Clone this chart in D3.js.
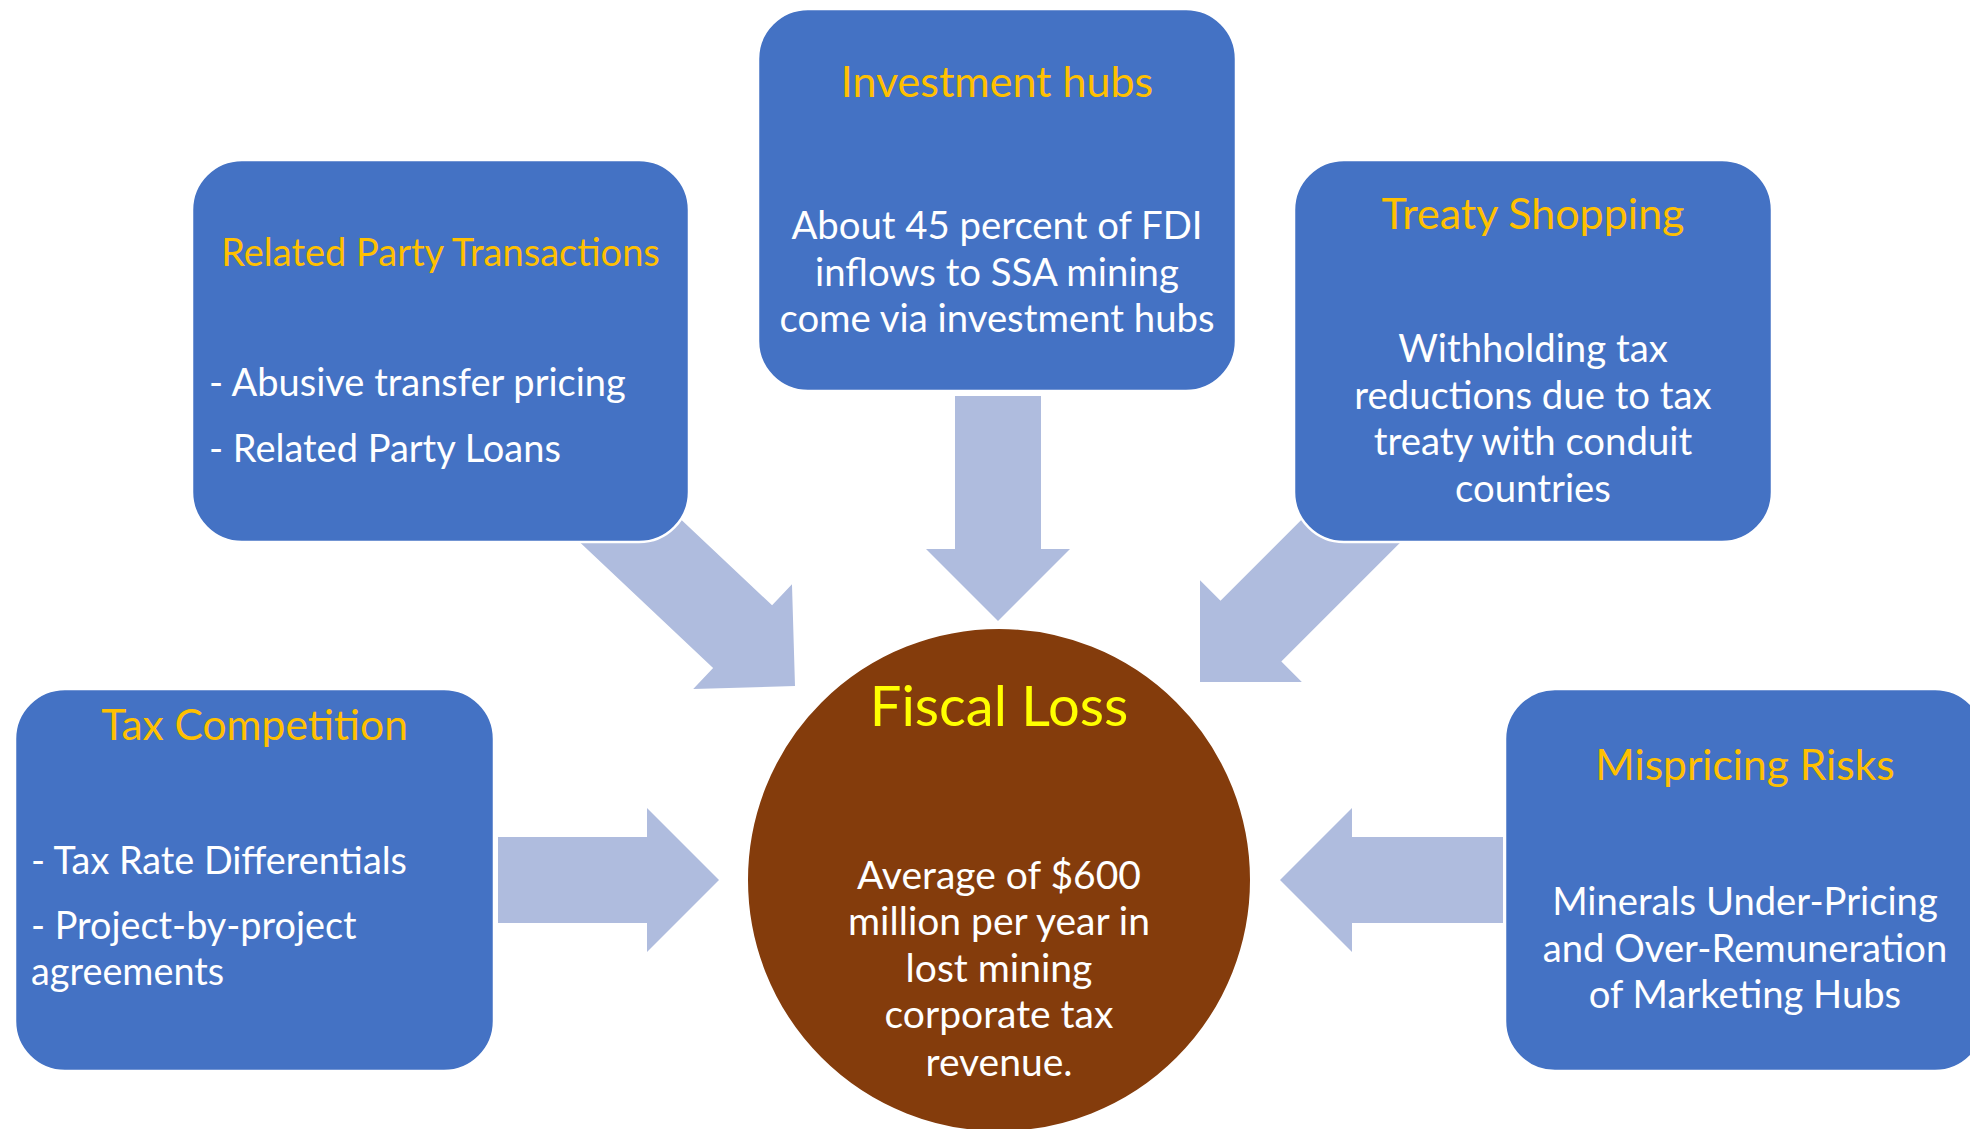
<!DOCTYPE html>
<html>
<head>
<meta charset="utf-8">
<script src="https://cdn.jsdelivr.net/npm/d3@7"></script>
<style>
  html, body { margin: 0; padding: 0; background: #ffffff; }
  svg { display: block; }
</style>
</head>
<body>
<script>
// ---------------- DATA ----------------
const boxTitles = [
  "Investment hubs",
  "Related Party Transactions",
  "Treaty Shopping",
  "Tax Competition",
  "Mispricing Risks"
];
const boxBodies = [
  ["About 45 percent of FDI", "inflows to SSA mining", "come via investment hubs"],
  ["- Abusive transfer pricing", "- Related Party Loans"],
  ["Withholding tax", "reductions due to tax", "treaty with conduit", "countries"],
  ["- Tax Rate Differentials", "- Project-by-project", "agreements"],
  ["Minerals Under-Pricing", "and Over-Remuneration", "of Marketing Hubs"]
];
const centerTitle = "Fiscal Loss";
const centerBody = ["Average of $600", "million per year in", "lost mining", "corporate tax", "revenue."];

// ---------------- LAYOUT ----------------
const W = 1970, H = 1129;
const FONT = "Lato, 'Open Sans', sans-serif";
const BOX_FILL = "#4472C4", TITLE_COL = "#FFC000", ARROW_COL = "#AFBCDE";
const CIRCLE_FILL = "#843C0C", CENTER_TITLE_COL = "#FFFF00";

// box frames and text placement (pixel layout)
const boxLayout = [
  { x: 758, y: 9,   w: 478, h: 382, titleY: 82,  titleSize: 43, bodyY: [226, 273, 319], bodySize: 38.3, align: "middle" },
  { x: 192, y: 160, w: 497, h: 382, titleY: 253, titleSize: 38, bodyY: [383, 449],      bodySize: 38,   align: "start", textX: 209 },
  { x: 1294, y: 160, w: 478, h: 382, titleY: 214, titleSize: 43, bodyY: [349, 396, 442, 489], bodySize: 38.3, align: "middle" },
  { x: 15,  y: 689, w: 479, h: 382, titleY: 726, titleSize: 42.5, bodyY: [861, 926, 972], bodySize: 37.8, align: "start", textX: 31 },
  { x: 1505, y: 689, w: 480, h: 382, titleY: 766, titleSize: 42.5, bodyY: [902, 949, 995], bodySize: 38.2, align: "middle" }
];
const circle = { cx: 999, cy: 880, r: 252, titleY: 707, titleSize: 56, bodyY: [876, 922, 969, 1015, 1063], bodySize: 39 };

// arrows: tip point, direction (deg), total length
const arrows = [
  { tx: 998,  ty: 621, ang: 90,   len: 225 },
  { tx: 719,  ty: 880, ang: 0,    len: 221 },
  { tx: 1280, ty: 880, ang: 180,  len: 223 },
  { tx: 795,  ty: 686, ang: 43.3, len: 300 },
  { tx: 1200, ty: 682, ang: 135,  len: 300 }
];
const SHAFT_HALF = 43, HEAD_HALF = 72, HEAD_LEN = 72;

// ---------------- DRAW ----------------
const svg = d3.select("body").append("svg")
  .attr("width", W).attr("height", H)
  .attr("viewBox", `0 0 ${W} ${H}`);

svg.append("rect").attr("width", W).attr("height", H).attr("fill", "#fff");

function arrowPoints(a) {
  const r = a.ang * Math.PI / 180;
  const dx = Math.cos(r), dy = Math.sin(r);
  const nx = -dy, ny = dx;
  const bx = a.tx - dx * HEAD_LEN, by = a.ty - dy * HEAD_LEN;
  const sx = a.tx - dx * a.len, sy = a.ty - dy * a.len;
  const p = (x, y, k) => [x + nx * k, y + ny * k];
  return [
    p(sx, sy, SHAFT_HALF), p(bx, by, SHAFT_HALF), p(bx, by, HEAD_HALF),
    [a.tx, a.ty],
    p(bx, by, -HEAD_HALF), p(bx, by, -SHAFT_HALF), p(sx, sy, -SHAFT_HALF)
  ];
}

const line = d3.line();
svg.append("g").selectAll("path").data(arrows).join("path")
  .attr("d", d => line(arrowPoints(d)) + "Z")
  .attr("fill", ARROW_COL);

// center circle
svg.append("circle")
  .attr("cx", circle.cx).attr("cy", circle.cy).attr("r", circle.r)
  .attr("fill", CIRCLE_FILL).attr("stroke", "#fff").attr("stroke-width", 2);

svg.append("text")
  .attr("x", circle.cx).attr("y", circle.titleY + circle.titleSize * 0.34)
  .attr("text-anchor", "middle")
  .attr("font-family", FONT).attr("font-size", circle.titleSize)
  .attr("fill", CENTER_TITLE_COL)
  .text(centerTitle);

svg.append("g").selectAll("text").data(centerBody).join("text")
  .attr("x", circle.cx)
  .attr("y", (d, i) => circle.bodyY[i] + circle.bodySize * 0.34)
  .attr("text-anchor", "middle")
  .attr("font-family", FONT).attr("font-size", circle.bodySize)
  .attr("fill", "#fff")
  .text(d => d);

// boxes
const boxes = svg.append("g").selectAll("g").data(boxTitles).join("g");

boxes.append("rect")
  .attr("x", (d, i) => boxLayout[i].x).attr("y", (d, i) => boxLayout[i].y)
  .attr("width", (d, i) => boxLayout[i].w).attr("height", (d, i) => boxLayout[i].h)
  .attr("rx", 50).attr("ry", 50)
  .attr("fill", BOX_FILL).attr("stroke", "#fff").attr("stroke-width", 2.5);

boxes.append("text")
  .attr("x", (d, i) => boxLayout[i].x + boxLayout[i].w / 2)
  .attr("y", (d, i) => boxLayout[i].titleY + boxLayout[i].titleSize * 0.34)
  .attr("text-anchor", "middle")
  .attr("font-family", FONT)
  .attr("font-size", (d, i) => boxLayout[i].titleSize)
  .attr("fill", TITLE_COL)
  .text(d => d);

boxes.each(function (d, i) {
  const L = boxLayout[i];
  const tx = L.align === "middle" ? L.x + L.w / 2 : L.textX;
  d3.select(this).selectAll("text.body").data(boxBodies[i]).join("text")
    .attr("class", "body")
    .attr("x", tx)
    .attr("y", (t, j) => L.bodyY[j] + L.bodySize * 0.34)
    .attr("text-anchor", L.align)
    .attr("font-family", FONT)
    .attr("font-size", L.bodySize)
    .attr("fill", "#fff")
    .text(t => t);
});
</script>
</body>
</html>
